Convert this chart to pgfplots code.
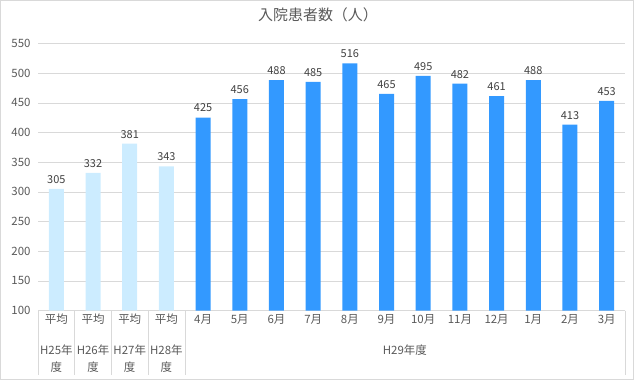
\documentclass[border=0pt]{standalone}
\usepackage{pgfplots}
\pgfplotsset{compat=1.18}
\usepackage{fontspec}
\setmainfont{Noto Sans CJK JP}
\definecolor{lightbar}{RGB}{204,236,255}
\definecolor{darkbar}{RGB}{51,153,255}
\definecolor{gridgray}{RGB}{217,217,217}
\definecolor{labgray}{RGB}{89,89,89}
\definecolor{datgray}{RGB}{64,64,64}
\begin{document}
\begin{tikzpicture}
\useasboundingbox (0,0) rectangle (634bp,380bp);
\draw[gridgray] (0.5bp,0.5bp) rectangle (633.5bp,379.5bp);
\node[labgray,font=\fontsize{15}{18}\selectfont] at (318bp,365bp) {入院患者数（人）};
\begin{axis}[
  at={(38bp,69.4bp)}, anchor=south west,
  scale only axis, width=587bp, height=267.3bp,
  xmin=-0.5, xmax=15.5, ymin=100, ymax=550,
  ytick={100,150,...,550},
  xtick={0,...,15},
  xticklabels={平均,平均,平均,平均,4月,5月,6月,7月,8月,9月,10月,11月,12月,1月,2月,3月},
  /pgf/number format/assume math mode=true,
  major tick length=0pt,
  axis lines*=left,
  axis line style={-},
  x axis line style={draw=gridgray},
  y axis line style={draw=none},
  ymajorgrids, grid style={draw=gridgray},
  ticklabel style={font=\fontsize{11.5}{13}\selectfont, text=labgray},
  yticklabel style={xshift=-4bp},
  xticklabel style={anchor=center, yshift=-9bp},
  ybar, bar shift=0pt, bar width=15bp,
  nodes near coords,
  every node near coord/.append style={font=\fontsize{11}{13}\selectfont, text=datgray, yshift=2bp},
  clip=false,
]
\addplot[draw=none, fill=lightbar] coordinates {(0,305) (1,332) (2,381) (3,343)};
\addplot[draw=none, fill=darkbar] coordinates {(4,425) (5,456) (6,488) (7,485) (8,516) (9,465) (10,495) (11,482) (12,461) (13,488) (14,413) (15,453)};
\foreach \x in {-0.5,0.5,1.5,2.5,3.5,15.5} {
  \edef\tmp{\noexpand\draw[gridgray] (axis cs:\x,100) -- ++(0pt,-64.4bp);}\tmp
}
\foreach \x/\t in {0/H25年,1/H26年,2/H27年,3/H28年} {
  \edef\tmp{\noexpand\node[labgray,font=\noexpand\fontsize{11.5}{13}\noexpand\selectfont] at (axis cs:\x,100) [yshift=-39.5bp] {\t};}\tmp
  \edef\tmp{\noexpand\node[labgray,font=\noexpand\fontsize{11.5}{13}\noexpand\selectfont] at (axis cs:\x,100) [yshift=-56.5bp] {度};}\tmp
}
\node[labgray,font=\fontsize{11.5}{13}\selectfont] at (axis cs:9.5,100) [yshift=-40bp] {H29年度};
\end{axis}
\end{tikzpicture}
\end{document}
